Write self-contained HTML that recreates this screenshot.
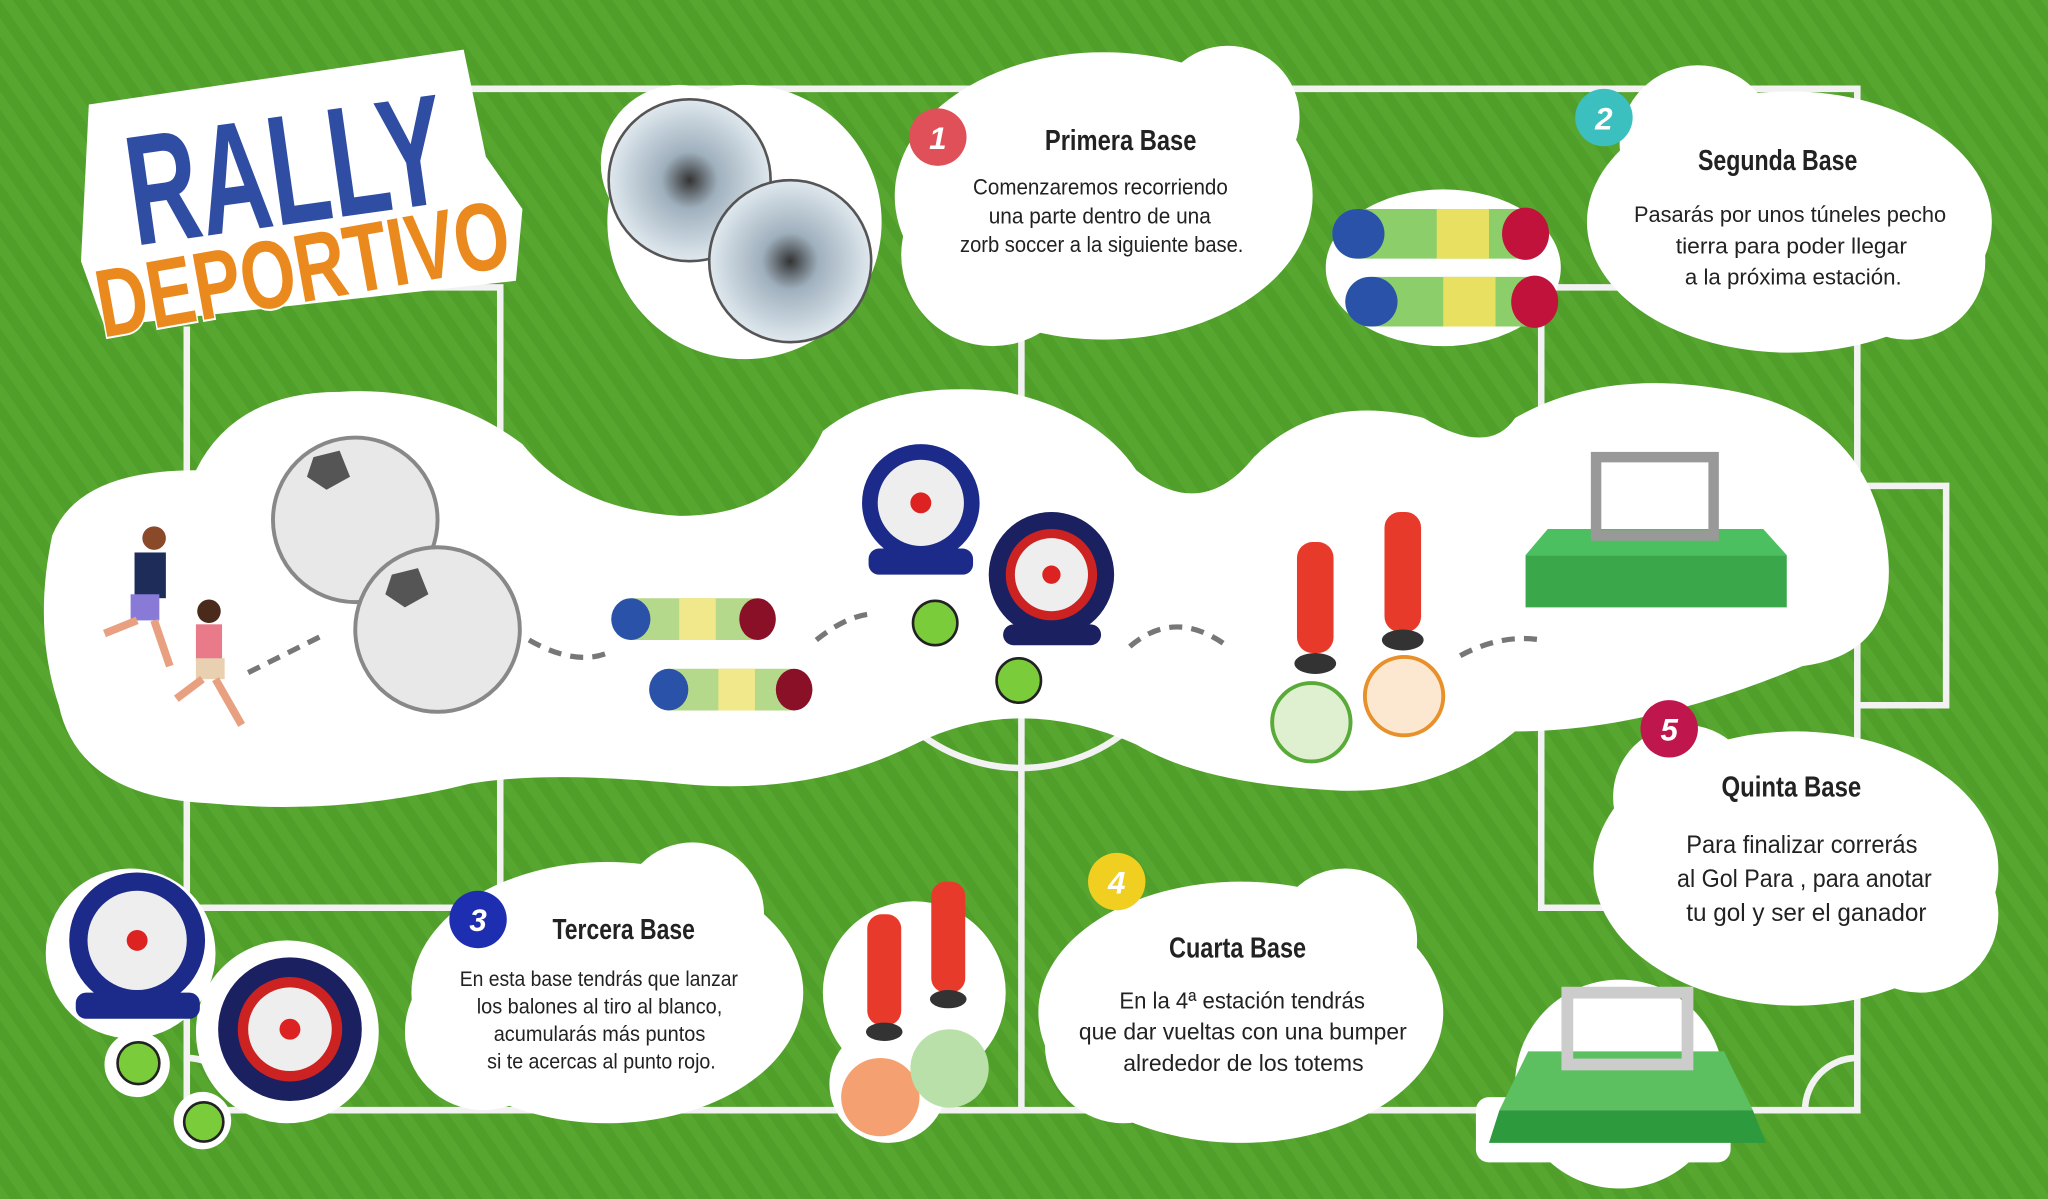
<!DOCTYPE html>
<html><head><meta charset="utf-8"><style>
html,body{margin:0;padding:0;width:2048px;height:1199px;overflow:hidden;background:#4e9e2a}
svg{display:block}
text{font-family:"Liberation Sans",sans-serif;fill:#222}
</style></head><body>
<svg width="2048" height="1199" viewBox="0 0 1568 918" preserveAspectRatio="none" xmlns="http://www.w3.org/2000/svg">
<defs>
<pattern id="st" width="16" height="16" patternUnits="userSpaceOnUse" patternTransform="rotate(-35)">
<rect width="16" height="16" fill="#4f9f2a"/><rect width="8" height="16" fill="#56a62f"/>
</pattern>
<radialGradient id="zb" cx="50%" cy="50%" r="50%"><stop offset="0" stop-color="#333"/><stop offset="0.35" stop-color="#9fb0bd"/><stop offset="1" stop-color="#dfe8ee"/></radialGradient>
</defs>
<rect width="1568" height="918" fill="url(#st)"/>
<g stroke="#f2f2f2" stroke-width="5" fill="none">
<path d="M350 68 H1422 V850 H143 V250"/>
<path d="M782 68 V850"/>
<path d="M143 220 H383 V695 H143"/>
<path d="M1422 220 H1180 V695 H1422"/>
<path d="M1422 372 H1490 V540 H1422"/>
<circle cx="782" cy="460" r="128"/>
<path d="M1422 810 a40 40 0 0 0 -40 40"/>
<path d="M143 810 a40 40 0 0 1 40 40"/>
</g>
<g fill="#fff">
<path d="M40 410 Q60 360 150 360 Q180 300 260 300 Q340 295 400 340 Q440 390 520 395 Q600 395 630 330 Q680 290 770 300 Q840 315 870 360 Q920 400 960 350 Q1010 300 1090 320 Q1140 350 1160 320 Q1230 280 1330 300 Q1430 320 1445 420 Q1455 500 1380 510 Q1260 560 1160 560 Q1100 610 1020 605 Q920 600 870 570 Q780 530 700 570 Q620 610 520 600 Q420 590 360 600 Q260 625 160 615 Q60 610 45 540 Q25 480 40 410 Z"/>
<ellipse cx="845" cy="150" rx="160" ry="110"/><circle cx="760" cy="195" r="70"/><circle cx="940" cy="90" r="55"/>
<ellipse cx="1370" cy="170" rx="155" ry="100"/><circle cx="1300" cy="110" r="60"/><circle cx="1460" cy="200" r="60"/>
<ellipse cx="465" cy="760" rx="150" ry="100"/><circle cx="370" cy="790" r="60"/><circle cx="530" cy="700" r="55"/>
<ellipse cx="950" cy="775" rx="155" ry="100"/><circle cx="860" cy="800" r="60"/><circle cx="1030" cy="720" r="55"/>
<ellipse cx="1375" cy="665" rx="155" ry="105"/><circle cx="1290" cy="610" r="55"/><circle cx="1470" cy="700" r="60"/>
<path d="M68 80 L355 38 L372 120 L400 160 L395 215 L80 250 L62 200 Z"/>
<circle cx="570" cy="170" r="105"/><circle cx="520" cy="125" r="60"/>
<ellipse cx="1105" cy="205" rx="90" ry="60"/>
<circle cx="100" cy="730" r="65"/><circle cx="220" cy="790" r="70"/><circle cx="105" cy="815" r="25"/><circle cx="155" cy="858" r="22"/>
<circle cx="700" cy="760" r="70"/><circle cx="680" cy="830" r="45"/>
<circle cx="1240" cy="830" r="80"/><rect x="1130" y="840" width="195" height="50" rx="10"/>
</g>
<!-- title -->
<text x="95" y="172" transform="rotate(-8 215 120)" textLength="245" lengthAdjust="spacingAndGlyphs" style="font-weight:bold;font-size:120px;fill:#2f4da3;stroke:#fff;stroke-width:3;paint-order:stroke">RALLY</text>
<text x="68" y="232" transform="rotate(-10 225 185)" textLength="320" lengthAdjust="spacingAndGlyphs" style="font-weight:bold;font-size:74px;fill:#ea8a1e;stroke:#fff;stroke-width:3;paint-order:stroke">DEPORTIVO</text>
<circle cx="528" cy="138" r="62" fill="url(#zb)" stroke="#555" stroke-width="2"/>
<circle cx="605" cy="200" r="62" fill="url(#zb)" stroke="#555" stroke-width="2"/>
<g>
<rect x="1020" y="160" width="165" height="38" rx="19" fill="#8ccf6a"/>
<rect x="1020" y="160" width="40" height="38" rx="19" fill="#2a52a8"/><rect x="1100" y="160" width="40" height="38" fill="#e8e060"/>
<ellipse cx="1168" cy="179" rx="18" ry="20" fill="#c0123a"/>
<rect x="1030" y="212" width="160" height="38" rx="19" fill="#8ccf6a"/>
<rect x="1030" y="212" width="40" height="38" rx="19" fill="#2a52a8"/><rect x="1105" y="212" width="40" height="38" fill="#e8e060"/>
<ellipse cx="1175" cy="231" rx="18" ry="20" fill="#c0123a"/>
</g>
<g style="font-weight:bold;font-size:24px;font-style:italic" text-anchor="middle">
<circle cx="718" cy="105" r="22" fill="#e05058"/><text x="718" y="114" style="fill:#fff">1</text>
<circle cx="1228" cy="90" r="22" fill="#3cbfbf"/><text x="1228" y="99" style="fill:#fff">2</text>
<circle cx="366" cy="704" r="22" fill="#1d2fb0"/><text x="366" y="713" style="fill:#fff">3</text>
<circle cx="855" cy="675" r="22" fill="#f0cf20"/><text x="855" y="684" style="fill:#fff">4</text>
<circle cx="1278" cy="558" r="22" fill="#c0164e"/><text x="1278" y="567" style="fill:#fff">5</text>
</g>
<g style="font-size:17px" lengthAdjust="spacingAndGlyphs">
<text x="800" y="115" textLength="116" lengthAdjust="spacingAndGlyphs" style="font-weight:bold;font-size:22px">Primera Base</text>
<text x="745" y="149" textLength="195" lengthAdjust="spacingAndGlyphs">Comenzaremos recorriendo</text>
<text x="757" y="171" textLength="170" lengthAdjust="spacingAndGlyphs">una parte dentro de una</text>
<text x="735" y="193" textLength="217" lengthAdjust="spacingAndGlyphs">zorb soccer a la siguiente base.</text>
<text x="1300" y="130" textLength="122" lengthAdjust="spacingAndGlyphs" style="font-weight:bold;font-size:22px">Segunda Base</text>
<text x="1251" y="170" textLength="239" lengthAdjust="spacingAndGlyphs">Pasarás por unos túneles pecho</text>
<text x="1283" y="194" textLength="177" lengthAdjust="spacingAndGlyphs">tierra para poder llegar</text>
<text x="1290" y="218" textLength="166" lengthAdjust="spacingAndGlyphs">a la próxima estación.</text>
<text x="423" y="719" textLength="109" lengthAdjust="spacingAndGlyphs" style="font-weight:bold;font-size:22px">Tercera Base</text>
<text x="352" y="755" textLength="213" lengthAdjust="spacingAndGlyphs" style="font-size:16px">En esta base tendrás que lanzar</text>
<text x="365" y="776" textLength="188" lengthAdjust="spacingAndGlyphs" style="font-size:16px">los balones al tiro al blanco,</text>
<text x="378" y="797" textLength="162" lengthAdjust="spacingAndGlyphs" style="font-size:16px">acumularás más puntos</text>
<text x="373" y="818" textLength="175" lengthAdjust="spacingAndGlyphs" style="font-size:16px">si te acercas al punto rojo.</text>
<text x="895" y="733" textLength="105" lengthAdjust="spacingAndGlyphs" style="font-weight:bold;font-size:22px">Cuarta Base</text>
<text x="857" y="772" textLength="188" lengthAdjust="spacingAndGlyphs" style="font-size:18px">En la 4ª estación tendrás</text>
<text x="826" y="796" textLength="251" lengthAdjust="spacingAndGlyphs" style="font-size:18px">que dar vueltas con una bumper</text>
<text x="860" y="820" textLength="184" lengthAdjust="spacingAndGlyphs" style="font-size:18px">alrededor de los totems</text>
<text x="1318" y="610" textLength="107" lengthAdjust="spacingAndGlyphs" style="font-weight:bold;font-size:22px">Quinta Base</text>
<text x="1291" y="653" textLength="177" lengthAdjust="spacingAndGlyphs" style="font-size:19px">Para finalizar correrás</text>
<text x="1284" y="679" textLength="195" lengthAdjust="spacingAndGlyphs" style="font-size:19px">al Gol Para , para anotar</text>
<text x="1291" y="705" textLength="184" lengthAdjust="spacingAndGlyphs" style="font-size:19px">tu gol y ser el ganador</text>
</g>
<g stroke="#777" stroke-width="4" fill="none" stroke-dasharray="10 7">
<path d="M190 515 Q220 500 250 485"/><path d="M405 490 Q440 510 465 500"/>
<path d="M625 490 Q650 470 670 470"/><path d="M865 495 Q900 465 940 495"/>
<path d="M1118 502 Q1150 485 1180 490"/>
</g>
<g><circle cx="118" cy="412" r="9" fill="#8a4a2a"/><rect x="103" y="423" width="24" height="35" fill="#1e2c5a"/><rect x="100" y="455" width="22" height="20" fill="#8a7ad8"/><path d="M105 475 L80 485 M118 475 L130 510" stroke="#e8a080" stroke-width="6"/></g>
<g><circle cx="160" cy="468" r="9" fill="#4a2a1a"/><rect x="150" y="478" width="20" height="28" fill="#e87a8a"/><rect x="150" y="504" width="22" height="16" fill="#e8d0b0"/><path d="M155 520 L135 535 M165 520 L185 555" stroke="#e8a080" stroke-width="6"/></g>
<circle cx="272" cy="398" r="63" fill="#e8e8e8" stroke="#888" stroke-width="3"/>
<circle cx="335" cy="482" r="63" fill="#e8e8e8" stroke="#888" stroke-width="3"/>
<polygon points="240,350 260,345 268,365 250,375 235,365" fill="#555"/><polygon points="300,440 320,435 328,455 310,465 295,455" fill="#555"/>
<g>
<rect x="468" y="458" width="125" height="32" rx="16" fill="#b5d98a"/><rect x="468" y="458" width="30" height="32" rx="16" fill="#2a52a8"/><rect x="520" y="458" width="28" height="32" fill="#f0e88a"/><ellipse cx="580" cy="474" rx="14" ry="16" fill="#8a1028"/>
<rect x="497" y="512" width="125" height="32" rx="16" fill="#b5d98a"/><rect x="497" y="512" width="30" height="32" rx="16" fill="#2a52a8"/><rect x="550" y="512" width="28" height="32" fill="#f0e88a"/><ellipse cx="608" cy="528" rx="14" ry="16" fill="#8a1028"/>
</g>
<g><circle cx="705" cy="385" r="45" fill="#1c2a8a"/><circle cx="705" cy="385" r="33" fill="#eee"/><circle cx="705" cy="385" r="8" fill="#d22"/><rect x="665" y="420" width="80" height="20" rx="8" fill="#1c2a8a"/></g>
<g><circle cx="805" cy="440" r="48" fill="#1a2060"/><circle cx="805" cy="440" r="35" fill="#c22"/><circle cx="805" cy="440" r="28" fill="#eee"/><circle cx="805" cy="440" r="7" fill="#d22"/><rect x="768" y="478" width="75" height="16" rx="8" fill="#1a2060"/></g>
<circle cx="716" cy="477" r="17" fill="#7acc3a" stroke="#222" stroke-width="2"/>
<circle cx="780" cy="521" r="17" fill="#7acc3a" stroke="#222" stroke-width="2"/>
<rect x="993" y="415" width="28" height="85" rx="12" fill="#e83a2a"/><ellipse cx="1007" cy="508" rx="16" ry="8" fill="#333"/>
<rect x="1060" y="392" width="28" height="92" rx="12" fill="#e83a2a"/><ellipse cx="1074" cy="490" rx="16" ry="8" fill="#333"/>
<circle cx="1004" cy="553" r="30" fill="#dff0d0" stroke="#5aaa3a" stroke-width="3"/>
<circle cx="1075" cy="533" r="30" fill="#fce8d0" stroke="#e8902a" stroke-width="3"/>
<polygon points="1168,425 1368,425 1368,465 1168,465" fill="#3aa84a"/><polygon points="1185,405 1350,405 1368,425 1168,425" fill="#4cc060"/>
<rect x="1222" y="350" width="90" height="60" fill="none" stroke="#999" stroke-width="8"/>
<g><circle cx="105" cy="720" r="52" fill="#1c2a8a"/><circle cx="105" cy="720" r="38" fill="#eee"/><circle cx="105" cy="720" r="8" fill="#d22"/><rect x="58" y="760" width="95" height="20" rx="8" fill="#1c2a8a"/></g>
<g><circle cx="222" cy="788" r="55" fill="#1a2060"/><circle cx="222" cy="788" r="40" fill="#c22"/><circle cx="222" cy="788" r="32" fill="#eee"/><circle cx="222" cy="788" r="8" fill="#d22"/></g>
<circle cx="106" cy="814" r="16" fill="#7acc3a" stroke="#222" stroke-width="2"/>
<circle cx="156" cy="859" r="15" fill="#7acc3a" stroke="#222" stroke-width="2"/>
<rect x="664" y="700" width="26" height="85" rx="11" fill="#e83a2a"/><ellipse cx="677" cy="790" rx="14" ry="7" fill="#333"/>
<rect x="713" y="675" width="26" height="85" rx="11" fill="#e83a2a"/><ellipse cx="726" cy="765" rx="14" ry="7" fill="#333"/>
<circle cx="674" cy="840" r="30" fill="#f4a070"/><circle cx="727" cy="818" r="30" fill="#b8e0a8"/>
<polygon points="1148,850 1342,850 1352,875 1140,875" fill="#2e9a3e"/><polygon points="1170,805 1320,805 1342,850 1148,850" fill="#5cc060"/>
<rect x="1200" y="760" width="92" height="55" fill="none" stroke="#ccc" stroke-width="9"/>
</svg>
</body></html>
